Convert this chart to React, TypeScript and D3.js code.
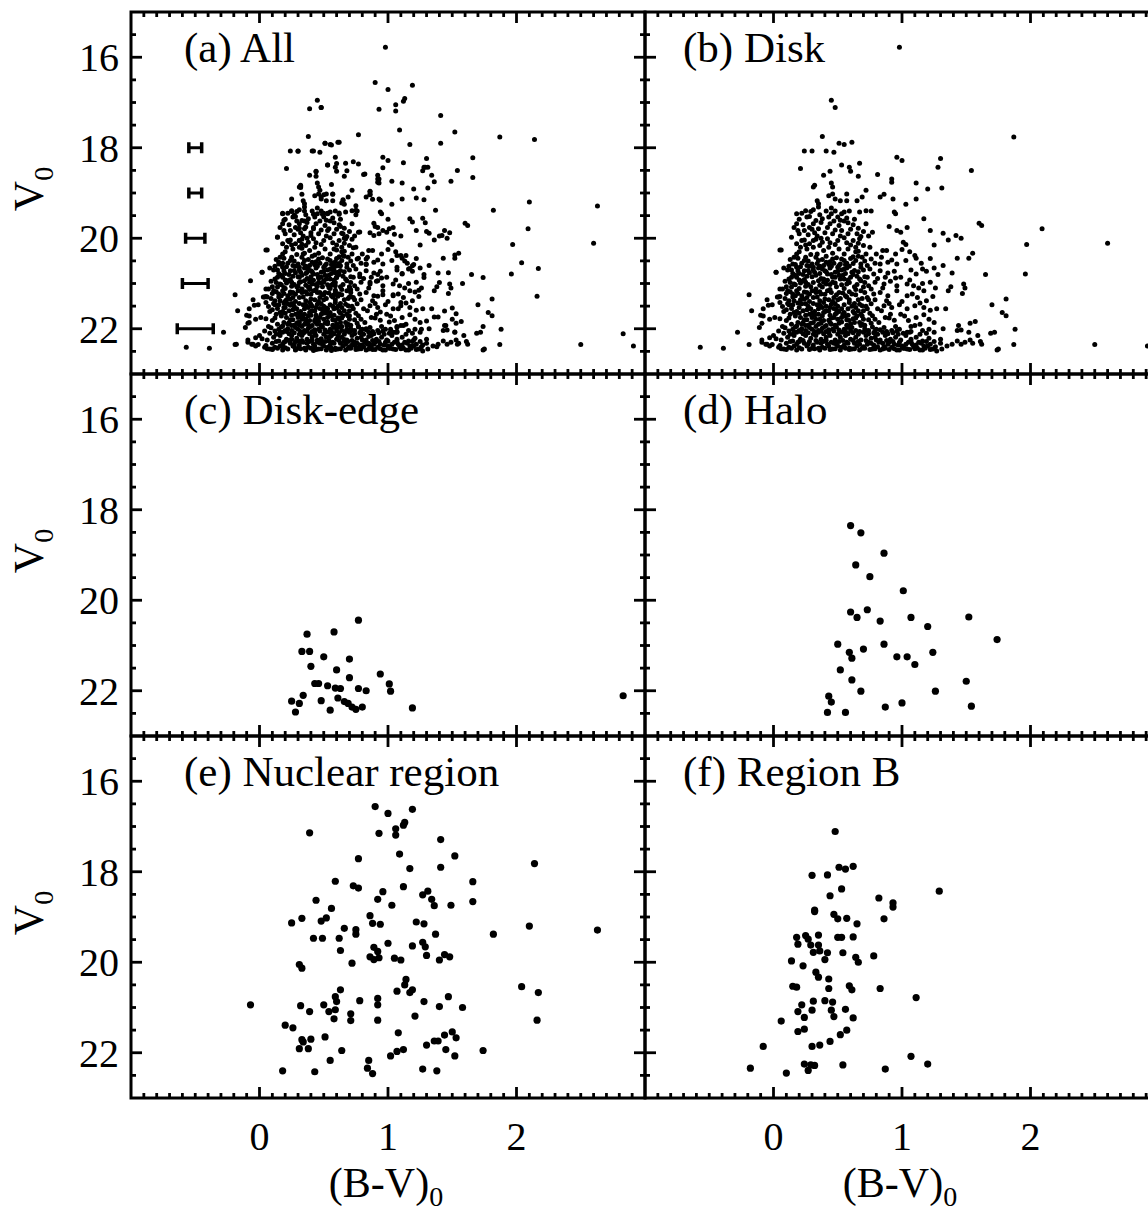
import React, { useEffect } from 'react';
import * as d3 from 'd3';

const W = 1148;
const H = 1211;

// [(B-V)0, V0] for each star subsample
const diskStars: [number, number][] = [
  [0.98,15.78],[0.45,16.95],[0.48,17.11],[0.38,17.75],[1.87,17.76],
  [0.51,17.90],[0.55,17.93],[0.61,17.88],[0.24,18.07],[0.30,18.07],[0.41,18.07],[0.47,18.10],
  [0.96,18.21],[1.00,18.28],[1.30,18.24],[0.21,18.46],[0.53,18.38],[0.59,18.43],[0.60,18.52],[0.67,18.34],
  [1.28,18.43],[1.54,18.50],[0.39,18.61],[0.44,18.52],[0.66,18.63],[0.81,18.59],[0.92,18.69],[0.92,18.76],
  [1.11,18.78],[1.20,18.91],[1.31,18.89],[0.31,18.87],[0.32,18.83],[0.45,18.78],[0.46,18.87],
  [0.57,19.02],[0.43,19.06],[0.46,19.02],[0.48,19.13],[0.52,19.17],[0.57,19.17],[0.65,19.17],[0.69,19.09],[0.72,18.94],
  [0.83,19.09],[0.86,19.03],[0.93,19.13],[1.11,19.13],[0.34,19.17],[0.35,19.24],[1.03,19.25],
  [0.25,19.39],[0.29,19.41],[0.31,19.37],[0.35,19.31],[0.18,19.46],[0.45,19.33],[0.45,19.46],[0.53,19.46],[0.55,19.42],
  [0.59,19.40],[0.67,19.42],[0.72,19.39],[0.76,19.40],[0.94,19.42],[0.95,19.46],
  [0.26,19.53],[0.33,19.61],[0.38,19.57],[0.43,19.53],[0.50,19.53],[0.57,19.55],[1.17,19.57],
  [0.16,19.76],[0.18,19.68],[0.19,19.83],[0.24,19.83],[0.28,19.76],[0.31,19.68],[0.35,19.79],[0.42,19.76],
  [0.44,19.68],[0.48,19.82],[0.53,19.83],[0.58,19.90],[0.62,19.70],[0.65,19.90],[0.68,19.96],[0.72,19.68],[0.77,19.87],
  [0.90,19.74],[0.96,19.83],[0.99,19.87],[1.04,19.76],[1.22,19.83],[1.32,19.89],[1.36,20.04],[1.42,19.94],[1.46,20.00],
  [1.60,19.67],[1.62,19.72],[2.09,19.79],[0.14,19.98],
  [0.22,20.05],[0.24,20.04],[0.31,20.05],[0.33,20.02],[0.38,20.09],[0.42,20.01],[0.46,19.90],[0.50,20.05],
  [0.55,19.99],[0.62,20.05],[0.66,20.11],[0.70,20.16],
  [0.20,19.58],[0.23,19.70],[0.27,19.92],[0.30,19.80],[0.34,19.95],[0.37,19.65],[0.40,19.88],[0.47,19.62],
  [0.51,19.72],[0.55,19.62],[0.60,19.80],
  [0.22,19.45],[0.28,19.52],[0.36,19.48],[0.41,19.40],[0.48,19.40],[0.52,19.60],[0.58,19.66],[0.63,19.58],
  [0.66,19.78],[0.70,19.85],[0.74,19.95],[0.20,19.90],[0.25,20.15],[0.32,19.88],[0.37,20.00],[0.44,20.10],
  [0.52,19.95],[0.57,20.10],[0.64,20.20],[0.67,20.01],[0.75,20.20],[0.80,20.35],[0.84,20.42],[0.88,20.27],
  [0.95,20.35],[1.00,20.25],[1.06,20.30],[1.15,20.55],[1.22,20.45],[1.28,20.80],
  [1.97,20.14],[2.60,20.11],[1.25,20.15],[1.01,20.09],[1.03,20.14],[0.85,20.27],[0.06,20.26],
  [0.21,20.20],[0.26,20.24],[0.31,20.20],[0.34,20.35],[0.39,20.27],[0.43,20.20],[0.46,20.33],[0.51,20.24],
  [0.55,20.35],[0.58,20.24],[0.62,20.41],[0.66,20.29],[0.72,20.35],[0.76,20.46],[0.79,20.55],[0.83,20.57],
  [0.89,20.53],[0.92,20.48],[0.96,20.57],[1.03,20.49],[1.10,20.38],[1.11,20.44],[1.43,20.44],[1.52,20.44],[1.55,20.33],
  [0.16,20.42],[0.18,20.35],[0.25,20.42],[0.24,20.49],[0.30,20.57],[0.35,20.49],[0.41,20.53],[0.46,20.46],
  [0.52,20.57],[0.57,20.55],[0.64,20.49],[0.68,20.57],
  [0.18,20.12],[0.20,20.30],[0.28,20.12],[0.29,20.36],[0.36,20.16],[0.41,20.40],[0.48,20.14],[0.53,20.46],
  [0.60,20.15],[0.64,20.30],[0.69,20.42],
  [0.13,20.47],[0.19,20.44],[0.27,20.50],[0.33,20.42],[0.38,20.47],[0.44,20.52],[0.49,20.43],[0.55,20.49],
  [0.60,20.45],[0.66,20.40],[0.71,20.50],
  [0.17,20.58],[0.22,20.55],[0.26,20.60],[0.31,20.64],[0.34,20.56],[0.39,20.60],[0.43,20.58],[0.47,20.55],
  [0.51,20.60],[0.56,20.58],[0.62,20.56],
  [0.02,20.75],[0.15,20.57],[0.18,20.64],[0.24,20.72],[0.31,20.70],[0.38,20.68],[0.42,20.79],[0.48,20.75],
  [0.55,20.68],[0.61,20.75],[0.68,20.64],[0.73,20.86],[0.78,20.79],[0.83,20.72],[0.89,20.77],[0.94,20.73],
  [0.99,20.86],[1.07,20.70],[1.11,20.79],[1.16,20.68],[1.19,20.73],[1.25,20.66],[1.32,20.60],
  [1.39,20.77],[1.65,20.80],[1.96,20.79],
  [0.08,20.66],[0.14,20.70],[0.21,20.63],[0.27,20.71],[0.35,20.66],[0.40,20.72],[0.45,20.62],[0.53,20.70],
  [0.57,20.66],[0.63,20.71],[0.75,20.68],
  [0.15,20.78],[0.19,20.72],[0.23,20.80],[0.28,20.76],[0.32,20.75],[0.36,20.78],[0.41,20.74],[0.45,20.80],
  [0.50,20.73],[0.56,20.78],[0.62,20.80],[0.66,20.74],
  [0.10,21.07],[0.16,21.01],[0.20,20.92],[0.25,20.97],[0.29,21.07],[0.35,20.94],[0.41,21.01],[0.46,20.97],
  [0.52,20.90],[0.57,21.01],[0.63,21.07],[0.68,20.94],[0.74,21.05],[0.79,20.97],[0.86,21.01],[0.91,20.95],
  [0.96,21.05],[1.04,21.01],[1.09,21.05],[1.16,21.00],[1.22,20.97],[1.38,21.07],[1.48,21.01],[1.49,21.10],
  [0.17,20.82],[0.20,20.78],[0.22,20.95],[0.26,20.84],[0.28,20.62],[0.33,20.82],[0.36,20.62],[0.39,20.90],
  [0.44,20.66],[0.46,20.86],[0.50,20.64],[0.51,20.82],[0.55,20.90],[0.59,20.62],[0.60,20.86],[0.65,20.84],
  [0.70,20.70],[0.73,20.60],[0.12,20.62],[0.14,20.86],[0.09,20.95],[0.11,20.70],
  [0.12,20.90],[0.18,20.86],[0.24,20.91],[0.30,20.85],[0.37,20.89],[0.42,20.93],[0.48,20.86],[0.54,20.82],
  [0.58,20.92],[0.67,20.90],[0.71,20.85],[0.81,20.89],
  [0.13,20.98],[0.17,21.03],[0.21,20.99],[0.27,21.02],[0.31,20.98],[0.36,21.04],[0.39,20.97],[0.44,21.02],
  [0.48,20.99],[0.53,21.03],[0.59,20.98],[0.65,21.02],[0.71,20.98],
  [0.87,20.86],[0.95,20.88],[1.06,20.92],[1.13,21.10],[1.26,21.10],
  [0.07,21.12],[0.14,21.08],[0.20,21.11],[0.25,21.06],[0.33,21.12],[0.38,21.08],[0.44,21.13],[0.49,21.07],
  [0.55,21.11],[0.64,21.13],[0.70,21.08],[0.76,21.12],[0.85,21.10],
  [0.05,21.29],[0.11,21.16],[0.15,21.23],[0.18,21.16],[0.22,21.27],[0.26,21.20],[0.31,21.31],[0.37,21.23],
  [0.42,21.16],[0.47,21.31],[0.51,21.20],[0.56,21.27],[0.61,21.23],[0.68,21.16],[0.73,21.31],[0.78,21.23],
  [0.83,21.20],[0.89,21.27],[0.96,21.16],[1.04,21.27],[1.08,21.23],[1.12,21.31],[1.17,21.16],[1.24,21.29],
  [1.36,21.16],[1.47,21.22],
  [0.10,21.22],[0.13,21.18],[0.19,21.22],[0.24,21.19],[0.28,21.24],[0.33,21.20],[0.36,21.18],[0.40,21.24],
  [0.45,21.20],[0.49,21.25],[0.54,21.21],[0.59,21.18],[0.64,21.25],[0.71,21.20],
  [0.09,21.33],[0.15,21.30],[0.19,21.43],[0.24,21.35],[0.34,21.30],[0.40,21.34],[0.50,21.36],[0.57,21.30],
  [0.63,21.44],[0.69,21.33],[0.79,21.36],[0.88,21.38],[0.90,21.44],[1.00,21.40],[1.14,21.43],[1.19,21.38],
  [-0.04,21.48],[-0.08,21.56],[-0.01,21.47],[0.01,21.75],
  [0.05,21.42],[0.07,21.51],[0.12,21.47],[0.16,21.38],[0.20,21.53],[0.25,21.45],[0.29,21.56],[0.34,21.47],
  [0.39,21.42],[0.44,21.53],[0.48,21.45],[0.53,21.56],[0.59,21.42],[0.64,21.53],[0.69,21.49],[0.76,21.45],
  [0.81,21.56],[0.86,21.49],[0.92,21.53],[0.98,21.47],[1.04,21.56],[1.10,21.49],[1.17,21.53],[1.22,21.59],
  [1.27,21.56],[1.34,21.56],[1.70,21.47],[1.81,21.34],[1.78,21.64],[1.81,21.71],
  [0.11,21.44],[0.15,21.47],[0.22,21.45],[0.27,21.50],[0.31,21.44],[0.36,21.48],[0.41,21.50],[0.45,21.46],
  [0.50,21.50],[0.55,21.47],[0.61,21.50],[0.67,21.46],[0.72,21.50],
  [0.12,21.38],[0.17,21.27],[0.21,21.36],[0.23,21.60],[0.26,21.31],[0.28,21.40],[0.30,21.16],[0.32,21.62],
  [0.36,21.38],[0.38,21.53],[0.40,21.62],[0.43,21.36],[0.46,21.40],[0.49,21.58],[0.52,21.33],[0.55,21.64],
  [0.59,21.36],[0.62,21.62],[0.66,21.36],[0.70,21.60],[0.74,21.36],
  [0.10,21.58],[0.14,21.55],[0.18,21.62],[0.26,21.58],[0.35,21.56],[0.43,21.61],[0.47,21.55],[0.51,21.62],
  [0.58,21.56],[0.66,21.60],[0.73,21.56],[0.84,21.60],
  [0.13,21.68],[0.17,21.72],[0.20,21.66],[0.25,21.70],[0.30,21.66],[0.35,21.68],[0.39,21.64],[0.44,21.70],
  [0.49,21.66],[0.54,21.68],[0.58,21.70],[0.63,21.66],[0.68,21.68],[0.75,21.66],
  [0.16,21.64],[0.21,21.75],[0.28,21.68],[0.33,21.79],[0.38,21.71],[0.43,21.81],[0.48,21.68],[0.53,21.75],
  [0.59,21.82],[0.65,21.71],[0.70,21.79],[0.77,21.71],[0.82,21.86],[0.87,21.75],[0.94,21.81],[0.99,21.68],
  [1.05,21.82],[1.11,21.75],[1.17,21.69],[1.21,21.79],[1.25,21.86],[1.44,21.93],[1.53,21.88],[1.57,21.84],
  [0.91,21.68],[1.02,21.72],[1.14,21.90],
  [0.05,21.78],[0.12,21.76],[0.24,21.80],[0.30,21.75],[0.36,21.79],[0.45,21.76],[0.50,21.79],[0.57,21.80],
  [0.64,21.76],[0.69,21.72],[0.79,21.79],[0.90,21.76],
  [0.19,21.86],[0.22,21.90],[0.26,21.80],[0.29,21.88],[0.32,21.70],[0.35,21.90],[0.39,21.82],[0.41,21.60],
  [0.45,21.90],[0.47,21.75],[0.51,21.88],[0.56,21.72],[0.60,21.90],[0.62,21.78],[0.67,21.86],[0.71,21.92],[0.74,21.80],
  [0.14,21.90],[0.18,21.94],[0.23,21.86],[0.27,21.92],[0.31,21.86],[0.37,21.88],[0.40,21.95],[0.44,21.86],
  [0.48,21.92],[0.53,21.85],[0.57,21.92],[0.63,21.86],[0.69,21.90],[0.76,21.88],
  [1.88,22.01],[1.72,22.08],[1.69,22.10],
  [0.15,22.01],[0.20,22.04],[0.25,21.93],[0.30,22.01],[0.35,22.04],[0.41,21.93],[0.46,22.01],[0.52,22.08],
  [0.58,21.97],[0.64,22.04],[0.68,21.93],[0.74,22.04],[0.80,22.01],[0.86,21.97],[0.92,22.04],[0.98,22.01],
  [1.04,22.08],[1.10,21.93],[1.16,22.04],[1.21,22.01],[1.25,22.08],[1.43,22.04],[1.46,22.03],[1.52,22.08],[1.59,22.15],
  [0.95,21.95],[1.07,21.95],[1.32,22.00],
  [0.09,21.98],[0.17,21.96],[0.22,22.00],[0.28,21.97],[0.33,21.95],[0.38,21.99],[0.43,22.02],[0.49,21.96],
  [0.55,22.01],[0.61,21.97],[0.71,22.00],[0.77,21.96],[0.83,22.02],
  [0.05,21.12],[0.03,21.30],[0.08,21.62],[0.10,21.82],[0.07,21.95],[0.04,22.05],[0.00,22.15],[0.02,22.22],
  [-0.03,22.20],[0.06,22.25],
  [0.12,22.05],[0.16,22.08],[0.21,22.06],[0.25,22.04],[0.32,22.06],[0.37,22.05],[0.41,22.06],[0.47,22.05],
  [0.51,22.03],[0.56,22.06],[0.60,22.05],[0.67,22.06],[0.72,22.04],[0.79,22.05],[0.88,22.06],[0.96,22.05],[1.07,22.06],
  [0.08,22.10],[0.13,22.12],[0.18,22.08],[0.23,22.11],[0.27,22.09],[0.31,22.12],[0.35,22.08],[0.39,22.11],
  [0.43,22.09],[0.50,22.12],[0.54,22.08],[0.58,22.11],[0.62,22.09],[0.66,22.12],[0.70,22.08],[0.74,22.11],
  [0.78,22.09],[0.81,22.12],[0.85,22.08],[0.89,22.11],[0.93,22.09],[0.97,22.12],[1.01,22.10],[1.06,22.08],
  [1.14,22.12],[1.19,22.10],
  [-0.09,22.30],[-0.05,22.34],[-0.01,22.35],[0.04,22.41],[0.08,22.45],[0.12,22.41],[0.15,22.27],[0.18,22.34],
  [0.22,22.45],[0.26,22.38],[0.30,22.43],[0.34,22.30],[0.38,22.41],[0.42,22.34],[0.46,22.45],[0.50,22.38],
  [0.53,22.41],[0.57,22.30],[0.61,22.45],[0.65,22.38],[0.69,22.43],[0.73,22.34],[0.77,22.45],[0.81,22.40],
  [0.85,22.45],[0.89,22.34],[0.92,22.41],[0.96,22.47],[1.00,22.38],[1.04,22.45],[1.08,22.34],[1.12,22.43],
  [1.16,22.47],[1.20,22.38],[1.24,22.45],[1.27,22.49],[1.31,22.45],[1.35,22.38],[1.39,22.34],[1.43,22.27],
  [1.46,22.34],[1.49,22.30],[1.53,22.25],[1.55,22.32],[1.61,22.28],[1.62,22.34],[1.74,22.47],[1.75,22.45],
  [1.87,22.35],[2.50,22.35],[2.91,22.38],
  [0.11,22.19],[0.16,22.15],[0.21,22.23],[0.25,22.15],[0.29,22.21],[0.33,22.15],[0.37,22.23],[0.41,22.19],
  [0.44,22.15],[0.48,22.25],[0.52,22.19],[0.56,22.15],[0.60,22.23],[0.64,22.19],[0.68,22.25],[0.72,22.15],
  [0.76,22.21],[0.79,22.19],[0.83,22.25],[0.87,22.15],[0.91,22.23],[0.95,22.19],[0.99,22.25],[1.03,22.15],
  [1.07,22.23],[1.11,22.19],[1.16,22.27],[1.21,22.21],[1.25,22.28],[1.30,22.23],
  [0.13,22.28],[0.19,22.30],[0.23,22.26],[0.27,22.34],[0.33,22.26],[0.37,22.32],[0.41,22.26],[0.45,22.30],
  [0.49,22.34],[0.54,22.26],[0.58,22.32],[0.62,22.26],[0.67,22.34],[0.72,22.26],[0.76,22.32],[0.80,22.25],
  [0.85,22.32],[0.88,22.26],[0.93,22.28],[0.97,22.36],[1.03,22.34],[1.07,22.28],[1.11,22.36],[1.15,22.32],[1.19,22.28],
  [0.10,22.32],[0.16,22.38],[0.20,22.28],[0.24,22.32],[0.28,22.28],[0.31,22.36],[0.35,22.43],[0.39,22.28],
  [0.43,22.38],[0.47,22.32],[0.51,22.28],[0.55,22.36],[0.59,22.43],[0.63,22.32],[0.66,22.28],[0.70,22.40],
  [0.74,22.30],[0.78,22.36],[0.82,22.30],[0.86,22.40],[0.90,22.30],[0.94,22.34],[0.98,22.30],[1.01,22.43],
  [1.05,22.30],[1.09,22.40],[1.13,22.30],[1.17,22.38],[1.22,22.34],[1.26,22.40],[1.30,22.32],
  [0.06,22.44],[0.10,22.46],[0.14,22.43],[0.18,22.47],[0.20,22.42],[0.28,22.46],[0.32,22.44],[0.36,22.47],
  [0.40,22.43],[0.44,22.46],[0.48,22.44],[0.52,22.47],[0.56,22.43],[0.59,22.46],[0.63,22.44],[0.67,22.47],
  [0.71,22.43],[0.75,22.46],[0.79,22.44],[0.83,22.47],[0.87,22.43],[0.90,22.46],[0.94,22.44],[0.98,22.47],
  [1.02,22.43],[1.06,22.46],[1.10,22.44],[1.14,22.47],[1.18,22.43],[1.22,22.46],
  [-0.57,22.41],[-0.39,22.43],[-0.28,22.08],[-0.19,22.35],[-0.19,21.25],[-0.17,21.60],[-0.05,21.36],
  [-0.10,21.70],[-0.08,21.72],[-0.09,21.88],[-0.11,21.97],[-0.03,21.79],[0.02,20.75],[0.05,20.26],[0.04,21.30],
  [-0.09,22.25],[-0.06,22.34],[-0.03,22.38],[0.05,22.37],
];

const diskEdgeStars: [number, number][] = [
  [0.77,20.44],[0.37,20.75],[0.58,20.70],[0.33,21.13],[0.39,21.13],[0.50,21.25],[0.70,21.30],[0.40,21.46],
  [0.60,21.54],[0.94,21.63],[0.70,21.71],[0.43,21.84],[0.46,21.84],[0.53,21.89],[0.59,21.94],[0.63,21.95],
  [1.01,21.85],[1.02,22.01],[0.77,21.95],[0.83,22.00],[0.34,22.10],[0.25,22.23],[0.31,22.28],[0.28,22.47],
  [0.48,22.22],[0.61,22.16],[0.66,22.24],[0.69,22.28],[0.72,22.36],[0.75,22.41],[0.80,22.36],[0.55,22.43],
  [1.19,22.38],[2.83,22.11],
];

const haloStars: [number, number][] = [
  [0.60,18.35],[0.68,18.51],[0.86,18.96],[0.64,19.22],[0.75,19.48],[1.01,19.79],[0.60,20.26],[0.65,20.38],
  [0.73,20.21],[0.83,20.46],[1.07,20.38],[1.20,20.58],[1.52,20.37],[1.74,20.87],[0.50,20.97],[0.59,21.15],
  [0.61,21.28],[0.70,21.08],[0.86,20.97],[0.96,21.25],[1.04,21.25],[1.10,21.42],[1.24,21.15],[0.52,21.54],
  [0.61,21.76],[0.68,22.01],[1.26,22.01],[1.50,21.79],[0.43,22.12],[0.45,22.25],[0.42,22.48],[0.56,22.48],
  [0.87,22.36],[1.00,22.27],[1.54,22.34],
];

const nuclearStars: [number, number][] = [
  [0.90,16.56],[1.00,16.71],[1.19,16.62],[0.39,17.14],[0.93,17.15],[1.06,17.05],[1.06,17.19],[1.12,16.97],
  [1.13,16.91],[1.41,17.29],[1.52,17.65],[1.09,17.61],[0.77,17.71],[1.17,17.93],[1.41,17.90],[2.14,17.82],
  [0.59,18.21],[0.73,18.31],[0.77,18.36],[1.12,18.33],[0.96,18.44],[1.27,18.51],[1.31,18.43],[0.92,18.61],
  [1.34,18.61],[1.36,18.75],[1.66,18.22],[1.66,18.66],[1.03,18.74],[1.49,18.74],[0.44,18.63],[0.56,18.81],
  [0.25,19.13],[0.33,19.03],[0.48,19.09],[0.52,19.02],[0.86,18.97],[0.88,19.14],[0.94,19.16],[1.22,19.11],
  [1.28,19.15],[1.82,19.38],[2.10,19.20],[2.63,19.29],[0.42,19.47],[0.49,19.47],[0.62,19.47],[0.66,19.25],
  [0.75,19.28],[0.75,19.38],[0.63,19.74],[1.00,19.58],[1.19,19.64],[1.27,19.56],[1.29,19.66],[1.37,19.38],
  [0.89,19.67],[0.92,19.76],[0.86,19.88],[0.89,19.94],[0.93,19.90],[0.72,20.02],[1.05,19.91],[1.10,19.95],
  [1.30,19.85],[1.40,19.95],[1.44,19.83],[1.48,19.88],[0.31,20.05],[0.33,20.13],[1.14,20.38],[1.13,20.50],
  [1.07,20.64],[1.17,20.67],[1.19,20.61],[0.63,20.61],[0.59,20.76],[0.60,20.87],[0.92,20.80],[0.92,20.94],
  [0.78,20.85],[1.28,20.87],[1.47,20.76],[2.04,20.54],[2.17,20.67],[-0.07,20.94],[0.32,20.96],[0.50,20.94],
  [0.39,21.09],[0.54,21.09],[0.59,21.05],[0.58,21.25],[0.71,21.14],[0.71,21.29],[0.92,21.28],[1.21,21.19],
  [1.40,20.98],[1.58,21.00],[2.16,21.28],[0.20,21.39],[0.26,21.45],[0.33,21.71],[0.34,21.76],[0.40,21.70],
  [0.31,21.91],[0.38,21.91],[0.51,21.65],[1.08,21.56],[1.30,21.83],[1.36,21.74],[1.39,21.74],[1.44,21.61],
  [1.50,21.54],[1.53,21.67],[0.64,21.95],[0.55,22.17],[1.74,21.95],[0.85,22.17],[0.84,22.34],[0.88,22.46],
  [1.02,22.07],[1.07,21.97],[1.12,21.93],[1.45,21.93],[1.52,22.07],[1.27,22.36],[1.38,22.40],[0.18,22.40],
  [0.43,22.42],
];

const regionBStars: [number, number][] = [
  [0.48,17.11],[0.51,17.90],[0.56,17.94],[0.62,17.88],[0.30,18.08],[0.42,18.07],[0.53,18.38],[0.44,18.53],
  [0.82,18.58],[0.93,18.69],[0.93,18.78],[1.29,18.43],[0.32,18.85],[0.32,18.88],[0.47,18.94],[0.50,19.04],
  [0.57,19.03],[0.86,19.04],[0.65,19.15],[0.18,19.45],[0.19,19.60],[0.25,19.41],[0.27,19.49],[0.35,19.40],
  [0.29,19.62],[0.35,19.62],[0.36,19.75],[0.31,19.78],[0.42,19.79],[0.50,19.45],[0.53,19.45],[0.62,19.44],
  [0.54,19.79],[0.64,19.89],[0.66,20.00],[0.78,19.86],[0.14,19.97],[0.23,20.08],[0.40,19.94],[0.33,20.22],
  [0.35,20.33],[0.43,20.37],[0.15,20.53],[0.18,20.55],[0.43,20.58],[0.59,20.52],[0.61,20.61],[0.83,20.58],
  [1.11,20.78],[0.31,20.86],[0.40,20.85],[0.46,20.88],[0.22,20.94],[0.19,21.09],[0.30,21.06],[0.45,21.06],
  [0.56,21.04],[0.24,21.22],[0.47,21.20],[0.62,21.23],[0.06,21.30],[0.19,21.53],[0.24,21.48],[0.57,21.50],
  [0.52,21.60],[0.44,21.75],[0.36,21.83],[0.30,21.86],[-0.08,21.86],[-0.18,22.34],[0.10,22.45],[0.24,22.25],
  [0.29,22.27],[0.32,22.28],[0.27,22.39],[0.54,22.27],[0.87,22.36],[1.07,22.08],[1.20,22.25],
];

// "All" is the union of the regional subsamples
const allStars: [number, number][] = [
  ...diskStars, ...diskEdgeStars, ...haloStars, ...nuclearStars, ...regionBStars,
];

// typical photometric errors in (B-V)0 at given V0
const errorV = [18, 19, 20, 21, 22];
const errorBV = [0.05, 0.05, 0.075, 0.1, 0.14];
const errorColumn = -0.5;

const xTickValues = [0, 1, 2];
const yTickValues = [16, 18, 20, 22];
const xDomain: [number, number] = [-1, 3];
const yDomain: [number, number] = [15, 23];

const panelLabels = ['(a) All', '(b) Disk', '(c) Disk-edge', '(d) Halo', '(e) Nuclear region', '(f) Region B'];
const panelData = [allStars, diskStars, diskEdgeStars, haloStars, nuclearStars, regionBStars];

const FONT = "'Liberation Serif', 'Times New Roman', Times, serif";
const colLeft = [131, 645];
const colW = 514;
const rowTop = [12, 374, 736];
const rowH = 362;

function Panel({ idx }: { idx: number }) {
  const col = idx % 2;
  const row = Math.floor(idx / 2);
  const x0 = colLeft[col];
  const y0 = rowTop[row];
  const x = d3.scaleLinear().domain(xDomain).range([x0, x0 + colW]);
  const y = d3.scaleLinear().domain(yDomain).range([y0, y0 + rowH]);
  const data = panelData[idx];
  const r = row === 0 ? 2.5 : 3.6;
  const majLen = 11;
  const minLen = 5;
  const xMinor = d3.range(-9, 30).map((i) => i / 10).filter((v) => Math.abs(v - Math.round(v)) > 1e-6);
  const yMinor = d3.range(31, 46).map((i) => i / 2).filter((v) => !yTickValues.includes(v));
  const x1 = x0 + colW;
  const y1 = y0 + rowH;
  const tickW = 2.8;
  return (
    <g>
      {data.map((d, i) => (
        <circle key={i} cx={x(d[0])} cy={y(d[1])} r={r} fill="#000" />
      ))}
      {idx === 0 &&
        errorV.map((v, i) => {
          const xl = x(errorColumn - errorBV[i]);
          const xr = x(errorColumn + errorBV[i]);
          const yc = y(v);
          return (
            <g key={'e' + i} stroke="#000">
              <line x1={xl} x2={xr} y1={yc} y2={yc} strokeWidth={3} />
              <line x1={xl} x2={xl} y1={yc - 5.5} y2={yc + 5.5} strokeWidth={3.5} />
              <line x1={xr} x2={xr} y1={yc - 5.5} y2={yc + 5.5} strokeWidth={3.5} />
            </g>
          );
        })}
      <g stroke="#000" strokeWidth={tickW}>
        {xTickValues.map((v) => (
          <g key={'xt' + v}>
            <line x1={x(v)} x2={x(v)} y1={y1} y2={y1 - majLen} />
            <line x1={x(v)} x2={x(v)} y1={y0} y2={y0 + majLen} />
          </g>
        ))}
        {xMinor.map((v) => (
          <g key={'xm' + v}>
            <line x1={x(v)} x2={x(v)} y1={y1} y2={y1 - minLen} />
            <line x1={x(v)} x2={x(v)} y1={y0} y2={y0 + minLen} />
          </g>
        ))}
        {yTickValues.map((v) => (
          <g key={'yt' + v}>
            <line x1={x0} x2={x0 + majLen} y1={y(v)} y2={y(v)} />
            <line x1={x1} x2={x1 - majLen} y1={y(v)} y2={y(v)} />
          </g>
        ))}
        {yMinor.map((v) => (
          <g key={'ym' + v}>
            <line x1={x0} x2={x0 + minLen} y1={y(v)} y2={y(v)} />
            <line x1={x1} x2={x1 - minLen} y1={y(v)} y2={y(v)} />
          </g>
        ))}
      </g>
      <rect x={x0} y={y0} width={colW} height={rowH} fill="none" stroke="#000" strokeWidth={3} />
      <text x={x0 + (col === 0 ? 53 : 38)} y={y0 + 50} fontSize={43} fontFamily={FONT} fill="#000">
        {panelLabels[idx]}
      </text>
      {col === 0 &&
        yTickValues.map((v) => (
          <text key={'yl' + v} x={119} y={y(v) + 14} textAnchor="end" fontSize={40} fontFamily={FONT} fill="#000">
            {v}
          </text>
        ))}
      {col === 0 && (
        <text
          transform={`translate(43,${(y0 + y1) / 2 - 4}) rotate(-90)`}
          textAnchor="middle"
          fontSize={42}
          fontFamily={FONT}
          fill="#000"
        >
          V<tspan fontSize={28} dy={10}>0</tspan>
        </text>
      )}
      {row === 2 &&
        xTickValues.map((v) => (
          <text key={'xl' + v} x={x(v)} y={1150} textAnchor="middle" fontSize={40} fontFamily={FONT} fill="#000">
            {v}
          </text>
        ))}
      {row === 2 && (
        <text x={x(1) - 2} y={1197} textAnchor="middle" fontSize={42} fontFamily={FONT} fill="#000">
          (B-V)<tspan fontSize={28} dy={9}>0</tspan>
        </text>
      )}
    </g>
  );
}

export default function App() {
  useEffect(() => {
    document.body.style.margin = '0';
  }, []);
  return (
    <svg width={W} height={H} style={{ display: 'block', background: '#fff' }}>
      <rect x={0} y={0} width={W} height={H} fill="#fff" />
      {panelLabels.map((_, i) => (
        <Panel key={i} idx={i} />
      ))}
    </svg>
  );
}
